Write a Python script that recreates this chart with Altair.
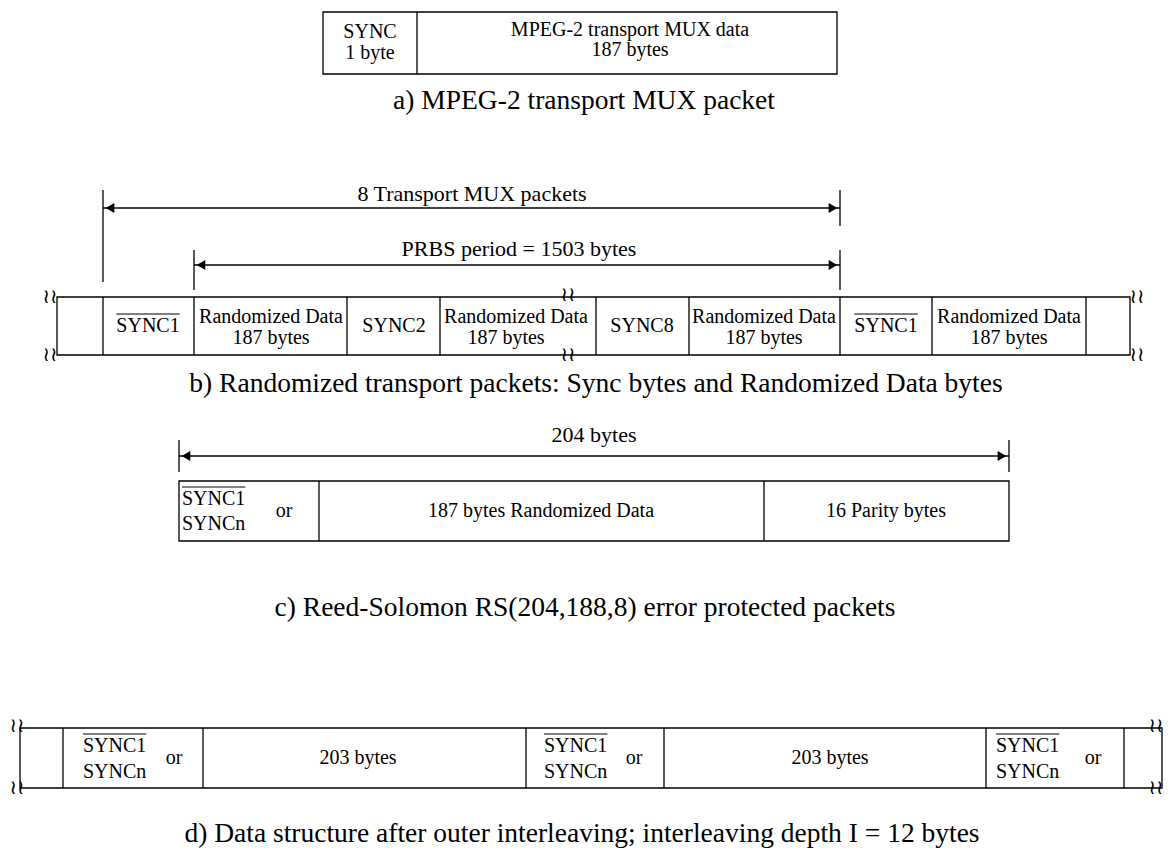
import altair as alt
import pandas as pd

# ---------------- data (diagram geometry in page pixels) ----------------
# packet rows: left, right, top, bottom
row_names = ["a", "b", "c", "d"]
row_left = [323, 57, 179, 20]
row_right = [837, 1130, 1009, 1162]
row_top = [12, 297, 481, 728]
row_bottom = [74, 355, 541, 788]

# field dividers per row
dividers_a = [417]
dividers_b = [103, 194, 347, 440, 596, 689, 840, 932, 1086]
dividers_c = [319, 764]
dividers_d = [63, 203, 526, 664, 986, 1124]

# break marks (x, y)
break_x = [50, 50, 568, 568, 1137, 1137, 17, 17, 1156, 1156]
break_y = [297, 355, 295, 355, 297, 355, 726, 788, 726, 788]

# dimension arrows: start, end, y, label, label x, label y
dim_start = [103, 194, 179]
dim_end = [840, 840, 1009]
dim_y = [208, 265, 456]
dim_label = ["8 Transport MUX packets", "PRBS period = 1503 bytes", "204 bytes"]
dim_label_x = [472, 519, 594]
dim_label_y = [194, 249, 435]

# extension lines: x, y1, y2
ext_x = [103, 840, 194, 840, 179, 1009]
ext_y1 = [190, 190, 250, 250, 440, 440]
ext_y2 = [282, 226, 290, 290, 472, 472]

# centred field labels
ctext = ["SYNC", "1 byte", "MPEG-2 transport MUX data", "187 bytes",
         "SYNC1", "Randomized Data", "187 bytes", "SYNC2", "Randomized Data", "187 bytes",
         "SYNC8", "Randomized Data", "187 bytes", "SYNC1", "Randomized Data", "187 bytes",
         "or", "187 bytes Randomized Data", "16 Parity bytes",
         "or", "203 bytes", "or", "203 bytes", "or"]
ctext_x = [370, 370, 630, 630,
           148, 271, 271, 394, 516, 506,
           642, 764, 764, 886, 1009, 1009,
           284, 541, 886,
           174, 358, 634, 830, 1093]
ctext_y = [32, 53, 30, 50,
           326, 317, 338, 326, 317, 338,
           326, 317, 338, 326, 317, 338,
           511, 511, 511,
           758, 758, 758, 758, 758]

# left-aligned field labels
ltext = ["SYNC1", "SYNCn", "SYNC1", "SYNCn", "SYNC1", "SYNCn", "SYNC1", "SYNCn"]
ltext_x = [182, 182, 83, 83, 544, 544, 996, 996]
ltext_y = [499, 524, 746, 772, 746, 772, 746, 772]

# overlined labels: centre or left x, y, anchored-left?
over_x = [148, 886, 182, 83, 544, 996]
over_y = [326, 326, 499, 746, 746, 746]
over_left = [False, False, True, True, True, True]

# captions
captions = ["a) MPEG-2 transport MUX packet",
            "b) Randomized transport packets: Sync bytes and Randomized Data bytes",
            "c) Reed-Solomon RS(204,188,8) error protected packets",
            "d) Data structure after outer interleaving; interleaving depth I = 12 bytes"]
caption_x = [584, 596, 585, 582]
caption_y = [101, 384, 608, 834]

# ---------------- build tables ----------------
FONT = "Liberation Serif"
FS_BOX = 20
FS_DIM = 22
FS_CAP = 27.5
SYNC1_EM = 3.167  # width of "SYNC1" in em (Times metrics)

rows = pd.DataFrame({"x1": row_left, "x2": row_right, "y1": row_top, "y2": row_bottom})

div_rows = []
for i, divs in enumerate([dividers_a, dividers_b, dividers_c, dividers_d]):
    for d in divs:
        div_rows.append({"x": d, "y1": row_top[i], "y2": row_bottom[i]})
vrules = pd.DataFrame(div_rows + [{"x": a, "y1": b, "y2": c} for a, b, c in zip(ext_x, ext_y1, ext_y2)])

hrules = pd.DataFrame({"x1": dim_start, "x2": dim_end, "y": dim_y})

heads = pd.DataFrame(
    [{"x": s + 7, "y": y, "shape": "triangle-left"} for s, y in zip(dim_start, dim_y)]
    + [{"x": e - 7, "y": y, "shape": "triangle-right"} for e, y in zip(dim_end, dim_y)]
)

w = SYNC1_EM * FS_BOX
over = pd.DataFrame([
    {"x1": (x if l else x - w / 2), "x2": (x + w if l else x + w / 2), "y": y - FS_BOX * 0.6}
    for x, y, l in zip(over_x, over_y, over_left)
])

ctab = pd.DataFrame({"x": ctext_x, "y": ctext_y, "t": ctext})
ltab = pd.DataFrame({"x": ltext_x, "y": ltext_y, "t": ltext})
dtab = pd.DataFrame({"x": dim_label_x, "y": dim_label_y, "t": dim_label})
captab = pd.DataFrame({"x": caption_x, "y": caption_y, "t": captions})
brk = pd.DataFrame({"x": break_x, "y": break_y, "t": ["≀≀"] * len(break_x)})

# ---------------- scales ----------------
XS = alt.Scale(domain=[8, 1165], nice=False, zero=False)
YS = alt.Scale(domain=[8, 849], reverse=True, nice=False, zero=False)


def X(f):
    return alt.X(f, type="quantitative", scale=XS, axis=None)


def Y(f):
    return alt.Y(f, type="quantitative", scale=YS, axis=None)


SW = 1.3
L_rows = alt.Chart(rows).mark_rect(fillOpacity=0, stroke="black", strokeWidth=SW).encode(
    x=X("x1"), x2="x2", y=Y("y1"), y2="y2")
L_v = alt.Chart(vrules).mark_rule(color="black", strokeWidth=SW).encode(
    x=X("x"), y=Y("y1"), y2="y2")
L_h = alt.Chart(hrules).mark_rule(color="black", strokeWidth=SW).encode(
    x=X("x1"), x2="x2", y=Y("y"))
L_over = alt.Chart(over).mark_rule(color="black", strokeWidth=1.2).encode(
    x=X("x1"), x2="x2", y=Y("y"))
L_heads = alt.Chart(heads).mark_point(filled=True, color="black", size=100, opacity=1).encode(
    x=X("x"), y=Y("y"), shape=alt.Shape("shape:N", scale=None, legend=None))


def txt(df, size, align="center"):
    return alt.Chart(df).mark_text(font=FONT, fontSize=size, align=align, baseline="middle",
                                   color="black").encode(x=X("x"), y=Y("y"), text="t:N")


L_ct = txt(ctab, FS_BOX)
L_lt = txt(ltab, FS_BOX, "left")
L_dt = txt(dtab, FS_DIM)
L_cap = txt(captab, FS_CAP)
L_brk = alt.Chart(brk).mark_text(font="DejaVu Sans", fontSize=20, align="center", baseline="middle",
                                 color="black").encode(x=X("x"), y=Y("y"), text="t:N")

chart = alt.layer(L_rows, L_v, L_h, L_over, L_heads, L_ct, L_lt, L_dt, L_cap, L_brk).properties(
    width=1157, height=841, padding=0, autosize="none", background="white"
).configure_view(stroke=None)

chart.save("out.html", embed_options={"renderer": "svg", "actions": False})
